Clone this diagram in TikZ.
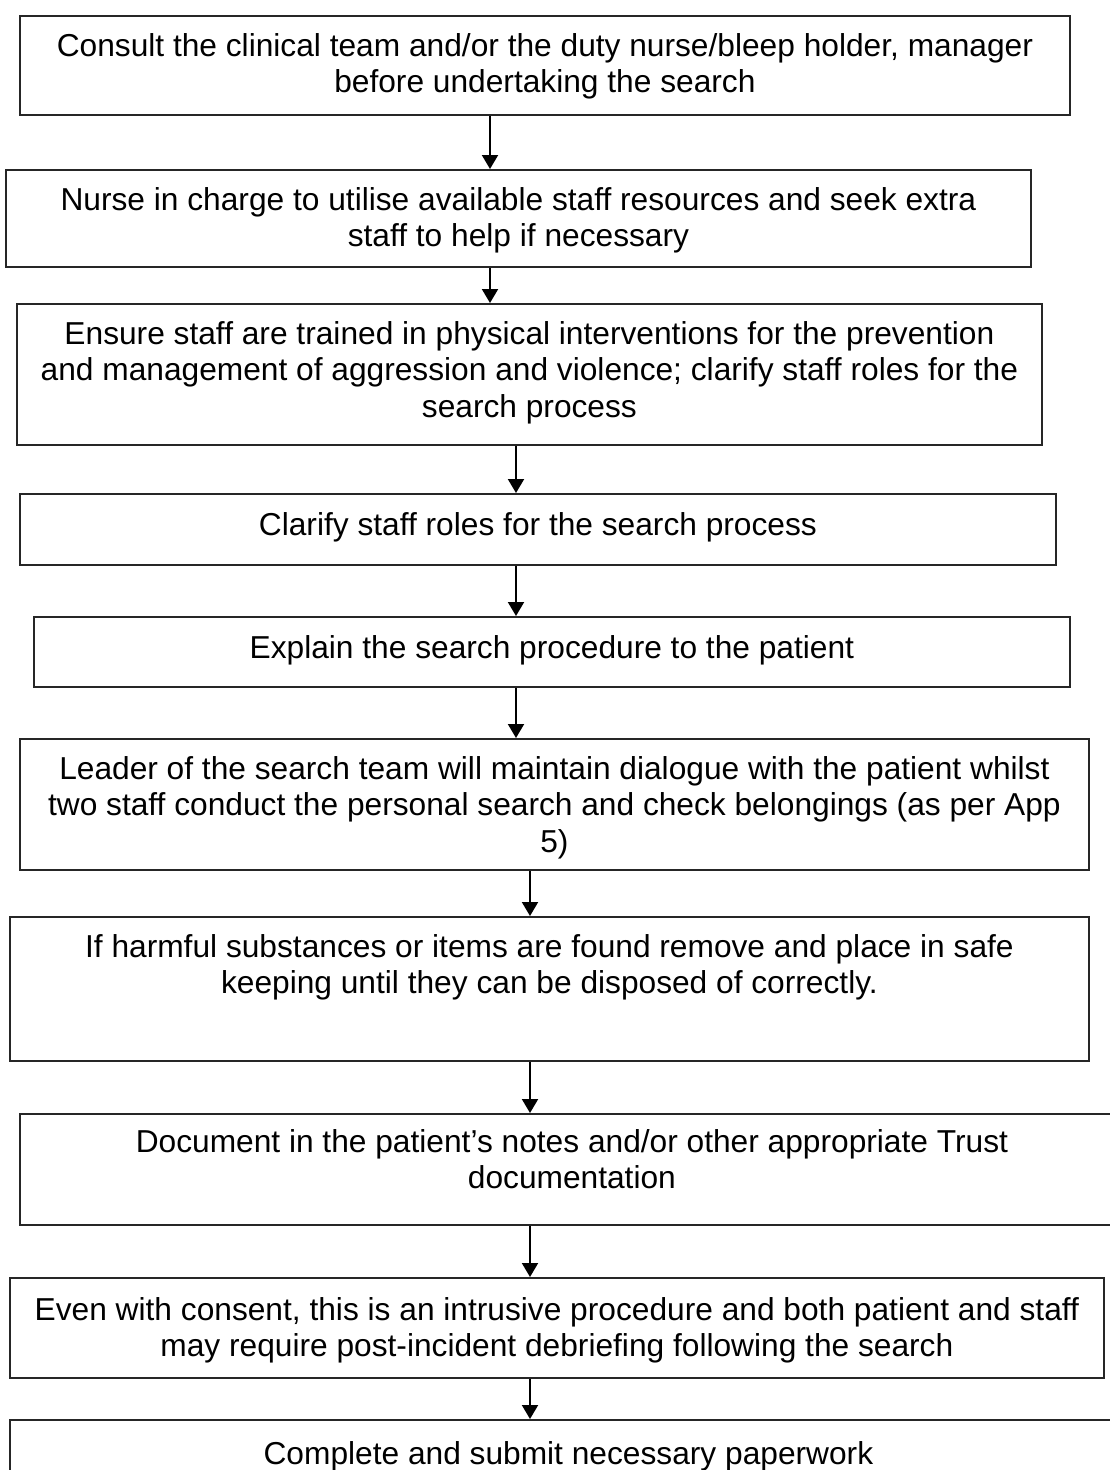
\documentclass[tikz,border=0pt]{standalone}
\usepackage{fontspec}
\setmainfont{Liberation Sans}
\usetikzlibrary{arrows.meta,calc}

\tikzset{
  stepbox/.style={draw=black!85, line width=1.8pt, rectangle, inner sep=0pt, anchor=north west},
  steptext/.style={anchor=north, inner sep=0pt, align=center,
    font=\fontsize{31.7pt}{36.5pt}\selectfont},
  flow/.style={line width=2pt, -{Triangle[width=16pt,length=14pt]}}
}

\begin{document}
\begin{tikzpicture}[x=1pt, y=-1pt]
  \useasboundingbox (0,0) rectangle (1110,1470);
  \clip (0,0) rectangle (1110,1470);

  % boxes: top-left corner, width, height (in pixels of the page)
  \node[stepbox, minimum width=1050pt, minimum height=99pt]  (b1)  at (19,15)   {};
  \node[stepbox, minimum width=1025pt, minimum height=97pt]  (b2)  at (5,169)   {};
  \node[stepbox, minimum width=1025pt, minimum height=141pt] (b3)  at (16,303)  {};
  \node[stepbox, minimum width=1036pt, minimum height=71pt]  (b4)  at (19,493)  {};
  \node[stepbox, minimum width=1036pt, minimum height=70pt]  (b5)  at (33,616)  {};
  \node[stepbox, minimum width=1069pt, minimum height=131pt] (b6)  at (19,738)  {};
  \node[stepbox, minimum width=1079pt, minimum height=144pt] (b7)  at (9,916)   {};
  \node[stepbox, minimum width=1104pt, minimum height=111pt] (b8)  at (19,1113) {};
  \node[stepbox, minimum width=1094pt, minimum height=100pt] (b9)  at (9,1277)  {};
  \node[stepbox, minimum width=1117pt, minimum height=90pt]  (b10) at (9,1419)  {};

  % texts, hung from the top edge of each box
  \node[steptext] (t1) at ($(b1.north)+(0,18)$)
    {Consult the clinical team and/or the duty nurse/bleep holder, manager\\before undertaking the search};
  \node[steptext] (t2) at ($(b2.north)+(0,18)$)
    {Nurse in charge to utilise available staff resources and seek extra\\staff to help if necessary};
  \node[steptext] (t3) at ($(b3.north)+(0,18)$)
    {Ensure staff are trained in physical interventions for the prevention\\and management of aggression and violence; clarify staff roles for the\\search process};
  \node[steptext] (t4) at ($(b4.north)+(0,19)$)
    {Clarify staff roles for the search process};
  \node[steptext] (t5) at ($(b5.north)+(0,19)$)
    {Explain the search procedure to the patient};
  \node[steptext] (t6) at ($(b6.north)+(0,18)$)
    {Leader of the search team will maintain dialogue with the patient whilst\\two staff conduct the personal search and check belongings (as per App\\5)};
  \node[steptext] (t7) at ($(b7.north)+(0,18)$)
    {If harmful substances or items are found remove and place in safe\\keeping until they can be disposed of correctly.};
  \node[steptext] (t8) at ($(b8.north)+(0,16)$)
    {Document in the patient’s notes and/or other appropriate Trust\\documentation};
  \node[steptext] (t9) at ($(b9.north)+(0,20)$)
    {Even with consent, this is an intrusive procedure and both patient and staff\\may require post-incident debriefing following the search};
  \node[steptext] (t10) at ($(b10.north)+(0,22)$)
    {Complete and submit necessary paperwork};

  % connectors
  \draw[flow] (b1.south -| 490,0) -- (b2.north -| 490,0);
  \draw[flow] (b2.south -| 490,0) -- (b3.north -| 490,0);
  \draw[flow] (b3.south -| 516,0) -- (b4.north -| 516,0);
  \draw[flow] (b4.south -| 516,0) -- (b5.north -| 516,0);
  \draw[flow] (b5.south -| 516,0) -- (b6.north -| 516,0);
  \draw[flow] (b6.south -| 530,0) -- (b7.north -| 530,0);
  \draw[flow] (b7.south -| 530,0) -- (b8.north -| 530,0);
  \draw[flow] (b8.south -| 530,0) -- (b9.north -| 530,0);
  \draw[flow] (b9.south -| 530,0) -- (b10.north -| 530,0);
\end{tikzpicture}
\end{document}
